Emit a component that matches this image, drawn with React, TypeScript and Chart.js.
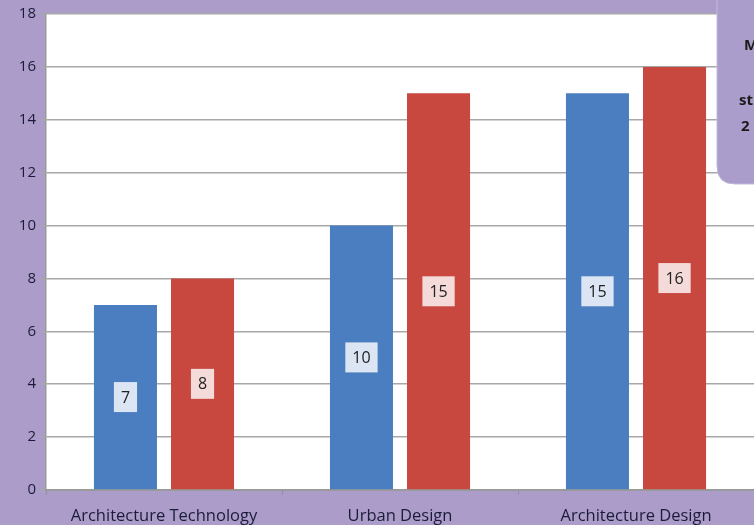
import React, { useEffect, useRef } from "react";
import { Chart, registerables } from "chart.js";

Chart.register(...registerables);

const categories = ["Architecture Technology", "Urban Design", "Architecture Design"];
const seriesBlue = [7, 10, 15];
const seriesRed = [8, 15, 16];
const yTicksMax = 18;
const yTickStep = 2;
const boxLines = ["M", "st", "2"];

const BG = "#ab9cca";
const FONT = "'Open Sans', 'Noto Sans', sans-serif";

const bgPlugin = {
  id: "bgPlugin",
  beforeDraw(chart: any) {
    const { ctx, chartArea } = chart;
    ctx.save();
    ctx.fillStyle = BG;
    ctx.fillRect(0, 0, chart.width, chart.height);
    ctx.fillStyle = "#ffffff";
    ctx.fillRect(chartArea.left, chartArea.top, chartArea.right - chartArea.left, chartArea.bottom - chartArea.top);
    ctx.restore();
  },
};

const labelPlugin = {
  id: "labelPlugin",
  afterDatasetsDraw(chart: any) {
    const { ctx } = chart;
    ctx.save();
    ctx.font = `16px ${FONT}`;
    ctx.textAlign = "center";
    ctx.textBaseline = "middle";
    chart.data.datasets.forEach((ds: any, di: number) => {
      const meta = chart.getDatasetMeta(di);
      meta.data.forEach((bar: any, i: number) => {
        const v = ds.data[i];
        const txt = String(v);
        const cx = bar.x;
        const cy = (bar.y + bar.base) / 2;
        const w = ctx.measureText(txt).width + 14;
        const h = 30;
        ctx.fillStyle = "rgba(255,255,255,0.8)";
        ctx.fillRect(cx - w / 2, cy - h / 2, w, h);
        ctx.fillStyle = "#222222";
        ctx.fillText(txt, cx, cy + 1);
      });
    });
    ctx.restore();
  },
};

const boxPlugin = {
  id: "boxPlugin",
  afterDraw(chart: any) {
    const { ctx } = chart;
    ctx.save();
    const x = 717, y = -20, w = 80, h = 204, r = 18;
    ctx.beginPath();
    ctx.moveTo(x + r, y);
    ctx.lineTo(x + w, y);
    ctx.lineTo(x + w, y + h);
    ctx.lineTo(x + r, y + h);
    ctx.quadraticCurveTo(x, y + h, x, y + h - r);
    ctx.lineTo(x, y + r);
    ctx.quadraticCurveTo(x, y, x + r, y);
    ctx.closePath();
    ctx.fillStyle = "#aa9ccb";
    ctx.fill();
    ctx.strokeStyle = "#c2b8dc";
    ctx.lineWidth = 1;
    ctx.stroke();
    ctx.fillStyle = "#1a1a1a";
    ctx.font = `bold 15px ${FONT}`;
    ctx.textBaseline = "middle";
    ctx.textAlign = "left";
    ctx.fillText(boxLines[0], 744, 46);
    ctx.fillText(boxLines[1], 739, 101);
    ctx.fillText(boxLines[2], 741, 127);
    ctx.restore();
  },
};

export default function App() {
  const ref = useRef<HTMLCanvasElement>(null);
  useEffect(() => {
    document.body.style.margin = "0";
    const chart = new Chart(ref.current!, {
      type: "bar",
      data: {
        labels: categories,
        datasets: [
          { label: "A", data: seriesBlue, backgroundColor: "#4a7ec0", borderWidth: 0 },
          { label: "B", data: seriesRed, backgroundColor: "#c8473f", borderWidth: 0 },
        ],
      },
      options: {
        responsive: false,
        animation: false,
        devicePixelRatio: 1,
        layout: { padding: { top: 14, right: 0, left: 0, bottom: 0 } },
        datasets: { bar: { categoryPercentage: 0.653, barPercentage: 0.818 } },
        plugins: { legend: { display: false }, tooltip: { enabled: false } },
        scales: {
          x: {
            offset: true,
            grid: {
              offset: true,
              drawOnChartArea: false,
              drawTicks: true,
              tickLength: 5,
              color: "#8f8f9f",
            },
            border: { display: true, color: "#9a9a9a", width: 2 },
            ticks: { color: "#1c1c38", font: { family: FONT, size: 16.5 }, padding: 11, maxRotation: 0 },
            afterFit(scale: any) { scale.height = 35; },
          },
          y: {
            min: 0,
            max: yTicksMax,
            ticks: { stepSize: yTickStep, color: "#1c1c38", font: { family: FONT, size: 15 }, padding: 4 },
            grid: { color: "#a8a8a8", lineWidth: 1.5, tickLength: 6 },
            border: { display: true, color: "#9a9a9a", width: 1.5 },
            afterFit(scale: any) { scale.width = 46; },
          },
        },
      },
      plugins: [bgPlugin, labelPlugin, boxPlugin],
    });
    return () => chart.destroy();
  }, []);
  return (
    <div style={{ width: 754, height: 525 }}>
      <canvas ref={ref} width={754} height={525} />
    </div>
  );
}
